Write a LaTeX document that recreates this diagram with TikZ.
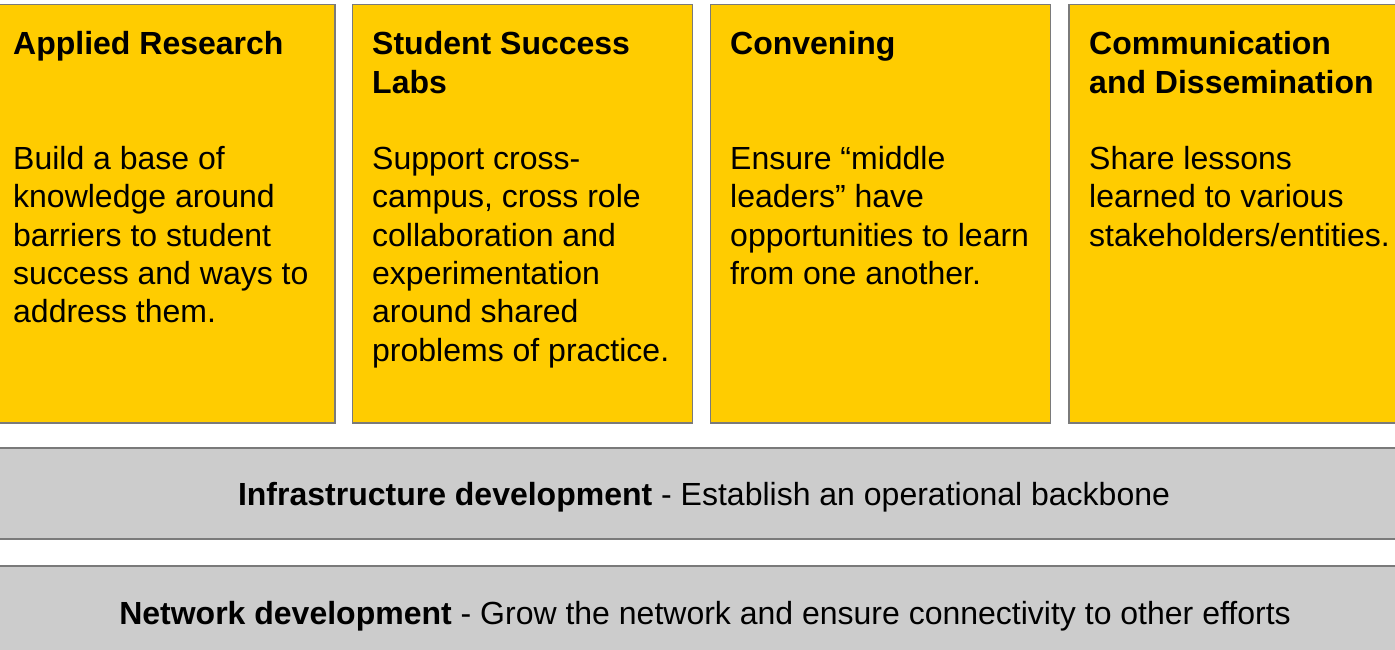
\documentclass[tikz,border=0pt]{standalone}
\usepackage{fontspec}
\setmainfont{Liberation Sans}
\definecolor{boxyellow}{HTML}{FFCC00}
\definecolor{bandgrey}{HTML}{CCCCCC}
\definecolor{edgegrey}{HTML}{7A7A7A}
\tikzset{
  ybox/.style={draw=edgegrey, line width=1.5pt, fill=boxyellow, rectangle, minimum width=340pt, minimum height=418pt, inner sep=0pt, anchor=north west},
  gband/.style={draw=edgegrey, line width=1.5pt, fill=bandgrey, rectangle, minimum width=1430pt, inner sep=0pt, anchor=north west},
  ttl/.style={anchor=base west, inner sep=0pt},
  bandtxt/.style={anchor=base, inner sep=0pt, font=\fontsize{32}{38.3}\selectfont}
}
\newcommand{\boxtext}[1]{\parbox[t]{330pt}{\raggedright\fontsize{32}{38.3}\selectfont #1}}
\begin{document}
\begin{tikzpicture}[x=1pt,y=-1pt]
\useasboundingbox (0,0) rectangle (1395,650);
% yellow boxes
\node[ybox] (b1) at (-6,4) {};
\node[ybox] (b2) at (351.5,4) {};
\node[ybox] (b3) at (709.5,4) {};
\node[ybox] (b4) at (1068,4) {};
% titles
\node[ttl] (t1) at (13,55) {\boxtext{\bfseries Applied Research}};
\node[ttl] (t2) at (372,55) {\boxtext{\bfseries Student Success\\Labs}};
\node[ttl] (t3) at (730,55) {\boxtext{\bfseries Convening}};
\node[ttl] (t4) at (1089,55) {\boxtext{\bfseries Communication\\and Dissemination}};
% bodies
\node[ttl] (d1) at (13,169.5) {\boxtext{Build a base of\\knowledge around\\barriers to student\\success and ways to\\address them.}};
\node[ttl] (d2) at (372,169.5) {\boxtext{Support cross-\\campus, cross role\\collaboration and\\experimentation\\around shared\\problems of practice.}};
\node[ttl] (d3) at (730,169.5) {\boxtext{Ensure “middle\\leaders” have\\opportunities to learn\\from one another.}};
\node[ttl] (d4) at (1089,169.5) {\boxtext{Share lessons\\learned to various\\stakeholders/entities.}};
% grey bands
\node[gband, minimum height=91pt] (band1) at (-7,447) {};
\node[gband, minimum height=100pt] (band2) at (-7,565) {};
\node[bandtxt] (l1) at (704,505) {\textbf{Infrastructure development} - Establish an operational backbone};
\node[bandtxt] (l2) at (705,624) {\textbf{Network development} - Grow the network and ensure connectivity to other efforts};
\end{tikzpicture}
\end{document}
